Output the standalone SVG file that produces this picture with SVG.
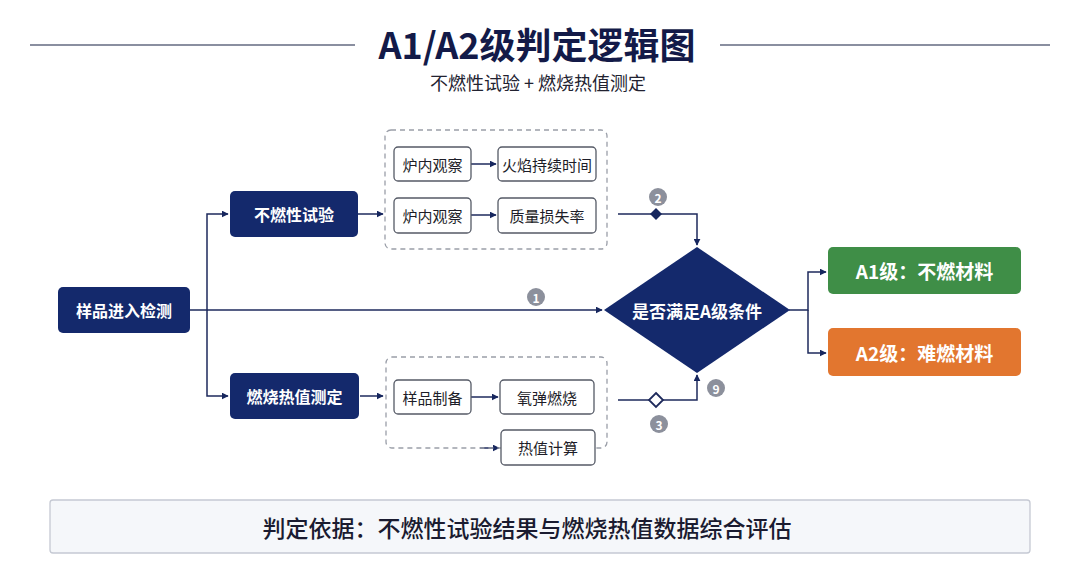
<svg xmlns="http://www.w3.org/2000/svg" width="1080" height="563" viewBox="0 0 1080 563">
<defs>
<marker id="ah" viewBox="0 0 10 10" refX="9" refY="5" markerWidth="7" markerHeight="7" orient="auto" markerUnits="userSpaceOnUse">
<path d="M0,0 L10,5 L0,10 z" fill="#16265e"/>
</marker>
<style>
.t{font-family:"Noto Sans CJK SC","Liberation Sans",sans-serif;}
.nav{fill:#14296c;}
.wt{fill:#ffffff;font-weight:bold;font-size:16px;text-anchor:middle;dominant-baseline:central;}
.big{font-size:19px;}
.mid{font-size:17px;}
.sb{fill:#ffffff;stroke:#555a66;stroke-width:1.3;}
.st{fill:#1d1d28;font-size:15px;text-anchor:middle;dominant-baseline:central;}
.dash{fill:none;stroke:#9a9ea8;stroke-width:1.3;stroke-dasharray:5 4;}
.ln{fill:none;stroke:#1e2a5c;stroke-width:1.5;}
.bd{fill:#8c909c;}
.bt{fill:#ffffff;font-size:12px;font-weight:bold;text-anchor:middle;dominant-baseline:central;}
</style>
</defs>
<rect width="1080" height="563" fill="#ffffff"/>
<g id="title">
<line x1="30" y1="45" x2="355" y2="45" stroke="#8a8fa0" stroke-width="2"/>
<line x1="720" y1="45" x2="1050" y2="45" stroke="#8a8fa0" stroke-width="2"/>
<text class="t" x="537" y="43" font-size="36" font-weight="bold" fill="#131a48" text-anchor="middle" dominant-baseline="central">A1/A2级判定逻辑图</text>
<text class="t" x="538" y="82" font-size="18" fill="#222230" text-anchor="middle" dominant-baseline="central">不燃性试验 + 燃烧热值测定</text>
</g>
<g id="connectors">
<polyline class="ln" points="190,310 207,310 207,214 228,214" marker-end="url(#ah)"/>
<polyline class="ln" points="207,310 207,396 228,396" marker-end="url(#ah)"/>
<line class="ln" x1="207" y1="310" x2="602" y2="310" marker-end="url(#ah)"/>
<line class="ln" x1="358" y1="214" x2="383" y2="214" marker-end="url(#ah)"/>
<line class="ln" x1="360" y1="396" x2="383" y2="396" marker-end="url(#ah)"/>
<line class="ln" x1="471" y1="164" x2="496" y2="164" marker-end="url(#ah)"/>
<line class="ln" x1="471" y1="215" x2="496" y2="215" marker-end="url(#ah)"/>
<line class="ln" x1="471" y1="397" x2="498" y2="397" marker-end="url(#ah)"/>
<line class="ln" x1="480" y1="448" x2="499" y2="448" marker-end="url(#ah)"/>
<polyline class="ln" points="618,214 697,214 697,245" marker-end="url(#ah)"/>
<polyline class="ln" points="618,400 697,400 697,375" marker-end="url(#ah)"/>
<path d="M656,208 L662,214 L656,220 L650,214 z" fill="#16265e"/>
<path d="M656,393 L663,400 L656,407 L649,400 z" fill="#ffffff" stroke="#1e2a5c" stroke-width="1.8"/>
<polyline class="ln" points="789,310 808,310 808,272 826,272" marker-end="url(#ah)"/>
<polyline class="ln" points="808,310 808,353 826,353" marker-end="url(#ah)"/>
</g>
<g id="badges">
<circle class="bd" cx="536" cy="297" r="9"/><text class="t bt" x="536" y="297">1</text>
<circle class="bd" cx="658" cy="197" r="9"/><text class="t bt" x="658" y="197">2</text>
<circle class="bd" cx="659" cy="424" r="9"/><text class="t bt" x="659" y="424">3</text>
<circle class="bd" cx="716" cy="388" r="9"/><text class="t bt" x="716" y="388">9</text>
</g>
<g id="n-start">
<rect class="nav" x="58" y="287" width="132" height="46" rx="5"/>
<text class="t wt" x="124" y="310">样品进入检测</text>
</g>
<g id="n-noncomb">
<rect class="nav" x="230" y="191" width="128" height="46" rx="5"/>
<text class="t wt" x="294" y="214">不燃性试验</text>
</g>
<g id="n-heat">
<rect class="nav" x="230" y="373" width="129" height="46" rx="5"/>
<text class="t wt" x="294.5" y="396">燃烧热值测定</text>
</g>
<g id="grp-top">
<rect class="dash" x="385" y="130" width="222" height="119" rx="6"/>
</g>
<g id="n-obs1">
<rect class="sb" x="394" y="147" width="77" height="34" rx="4"/>
<text class="t st" x="432.5" y="164">炉内观察</text>
</g>
<g id="n-flame">
<rect class="sb" x="498" y="147" width="98" height="34" rx="4"/>
<text class="t st" x="547" y="164">火焰持续时间</text>
</g>
<g id="n-obs2">
<rect class="sb" x="394" y="198" width="77" height="35" rx="4"/>
<text class="t st" x="432.5" y="215.5">炉内观察</text>
</g>
<g id="n-mass">
<rect class="sb" x="498" y="198" width="98" height="35" rx="4"/>
<text class="t st" x="547" y="215.5">质量损失率</text>
</g>
<g id="grp-bottom">
<rect class="dash" x="386" y="357" width="221" height="91" rx="6"/>
</g>
<g id="n-prep">
<rect class="sb" x="394" y="380" width="77" height="34" rx="4"/>
<text class="t st" x="432.5" y="397">样品制备</text>
</g>
<g id="n-bomb">
<rect class="sb" x="500" y="380" width="94" height="34" rx="4"/>
<text class="t st" x="547" y="397">氧弹燃烧</text>
</g>
<g id="n-calc">
<rect class="sb" x="501" y="430" width="94" height="35" rx="4"/>
<text class="t st" x="548" y="447.5">热值计算</text>
</g>
<g id="n-decision">
<path class="nav" d="M697,247 L790,310 L697,373 L604,310 z"/>
<text class="t wt mid" x="697" y="310">是否满足A级条件</text>
</g>
<g id="n-a1">
<rect x="828" y="247" width="193" height="47" rx="5" fill="#3f8e47"/>
<text class="t wt big" x="924.5" y="270.5">A1级：不燃材料</text>
</g>
<g id="n-a2">
<rect x="828" y="328" width="193" height="48" rx="5" fill="#e2762f"/>
<text class="t wt big" x="924.5" y="352">A2级：难燃材料</text>
</g>
<g id="basis">
<rect x="50" y="500" width="980" height="53" rx="3" fill="#f5f7fa" stroke="#c5c9d3" stroke-width="1.3"/>
<text class="t" x="527" y="527" font-size="23" font-weight="500" fill="#1a1b30" text-anchor="middle" dominant-baseline="central">判定依据：不燃性试验结果与燃烧热值数据综合评估</text>
</g>
</svg>
